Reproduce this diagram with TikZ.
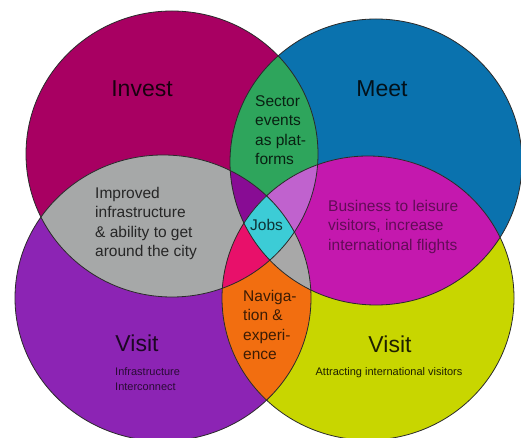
\documentclass[tikz,border=0pt]{standalone}
\usepackage{fontspec}
\setmainfont{Liberation Sans}
\definecolor{cInvest}{HTML}{A80062}
\definecolor{cMeet}{HTML}{0A72AE}
\definecolor{cVL}{HTML}{8C24B4}
\definecolor{cVR}{HTML}{C8D600}
\definecolor{cGreen}{HTML}{2EA55C}
\definecolor{cGray}{HTML}{A6A8A8}
\definecolor{cPink}{HTML}{C418AE}
\definecolor{cOrange}{HTML}{F26E10}
\definecolor{cDarkPurple}{HTML}{880C94}
\definecolor{cOrchid}{HTML}{C062CE}
\definecolor{cHotPink}{HTML}{E8106A}
\definecolor{cGrayB}{HTML}{A8A8A8}
\definecolor{cJobs}{HTML}{3CCCD6}
\definecolor{cLine}{HTML}{2A2A2A}
\def\pI{(172,154) ellipse [x radius=146pt, y radius=143pt]}
\def\pM{(376,162) ellipse [x radius=146pt, y radius=143pt]}
\def\pVL{(163,298) ellipse [x radius=148pt, y radius=143pt]}
\def\pVR{(368,298) ellipse [x radius=146pt, y radius=142pt]}
\tikzset{
  outline/.style={draw=cLine, line width=0.8pt},
  big/.style={font=\fontsize{23}{26}\selectfont, anchor=base, inner sep=0pt},
  mid/.style={font=\fontsize{15.5}{19.5}\selectfont, align=left, anchor=north west, inner sep=0pt},
  small/.style={font=\fontsize{11}{15}\selectfont, inner sep=0pt},
}
\begin{document}
\begin{tikzpicture}[x=1pt, y=-1pt]
\useasboundingbox (0,0) rectangle (521,438);
\fill[white] (0,0) rectangle (521,438);
\clip (0,0) rectangle (521,438);
% single circles
\fill[cInvest] \pI;
\fill[cMeet] \pM;
\fill[cVL] \pVL;
\fill[cVR] \pVR;
% pairs
\begin{scope}\clip \pI; \fill[cGreen] \pM; \end{scope}
\begin{scope}\clip \pI; \fill[cGray] \pVL; \end{scope}
\begin{scope}\clip \pM; \fill[cPink] \pVR; \end{scope}
\begin{scope}\clip \pVL; \fill[cOrange] \pVR; \end{scope}
% triples
\begin{scope}\clip \pI; \clip \pM; \fill[cDarkPurple] \pVL; \end{scope}
\begin{scope}\clip \pI; \clip \pM; \fill[cOrchid] \pVR; \end{scope}
\begin{scope}\clip \pI; \clip \pVL; \fill[cHotPink] \pVR; \end{scope}
\begin{scope}\clip \pM; \clip \pVL; \fill[cGrayB] \pVR; \end{scope}
% all four
\begin{scope}\clip \pI; \clip \pM; \clip \pVL; \fill[cJobs] \pVR; \end{scope}
% outlines
\draw[outline] \pI;
\draw[outline] \pM;
\draw[outline] \pVL;
\draw[outline] \pVR;
% labels
\node[big, text=black!85!cInvest] (invest) at (142,97) {Invest};
\node[big, text=black!85!cMeet] (meet) at (382,97) {Meet};
\node[big, text=black!80!cVL] (visitl) at (137,351) {Visit};
\node[big, text=black!85!cVR] (visitr) at (390,352) {Visit};
\node[mid, text=black!80!cGreen] (sector) at (255,95) {Sector\\events\\as plat-\\forms};
\node[mid, text=black!85] (improved) at (95,187) {Improved\\infrastructure\\\& ability to get\\around the city};
\node[mid, text=black!50!cPink] (business) at (328,200) {Business to leisure\\visitors, increase\\international flights};
\node[mid, text=black!75!cJobs] (jobs) at (250,219) {Jobs};
\node[mid, text=black!75!cOrange] (navig) at (243,290) {Naviga-\\tion \&\\experi-\\ence};
\node[small, align=left, anchor=north west, text=black!70!cVL] (infra) at (115,367) {Infrastructure\\Interconnect};
\node[small, anchor=base, text=black!85!cVR] (attract) at (389,375) {Attracting international visitors};
\end{tikzpicture}
\end{document}
